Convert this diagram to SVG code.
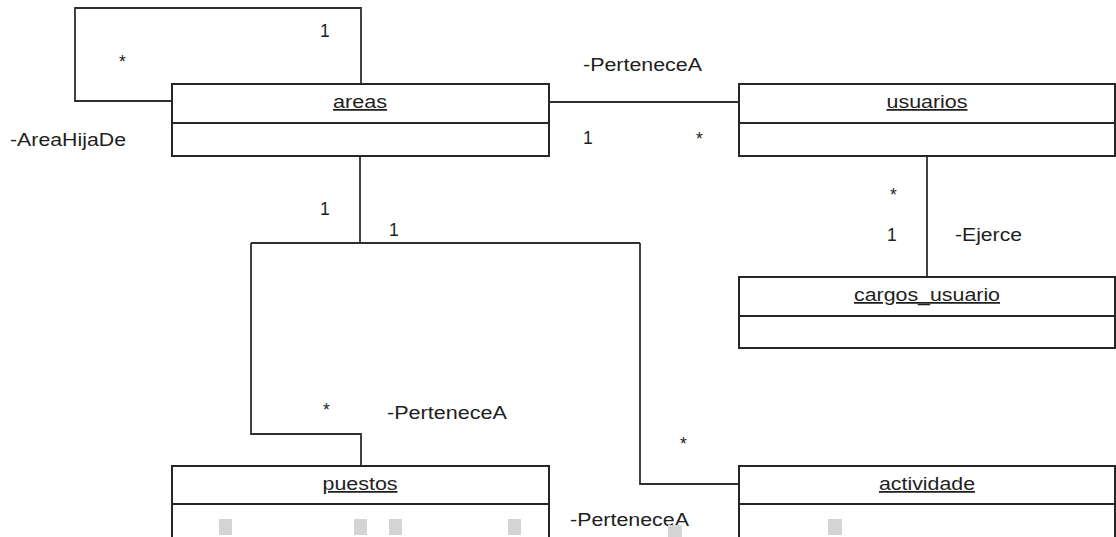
<svg xmlns="http://www.w3.org/2000/svg" width="1116" height="537" viewBox="0 0 1116 537">
  <style>
    .box { fill: #ffffff; stroke: #262626; stroke-width: 2; }
    .div { stroke: #262626; stroke-width: 2; }
    .conn { fill: none; stroke: #2e2e2e; stroke-width: 1.8; }
    text { font-family: "Liberation Sans", Arial, sans-serif; font-size: 17.5px; fill: #1e1e1e; }
    .name { text-anchor: middle; text-decoration: underline; }
    .mid { text-anchor: middle; }
    .smear { fill: #d4d4d4; }
  </style>

  <!-- associations -->
  <g id="connectors">
    <!-- areas self association -->
    <polyline class="conn" points="172,101 75,101 75,8 361,8 361,84"/>
    <!-- areas - usuarios -->
    <line class="conn" x1="549" y1="102" x2="739" y2="102"/>
    <!-- areas trunk down to the branch -->
    <line class="conn" x1="360" y1="156" x2="360" y2="243"/>
    <line class="conn" x1="251" y1="243" x2="640" y2="243"/>
    <!-- branch to puestos -->
    <polyline class="conn" points="251,243 251,434 361,434 361,466"/>
    <!-- branch to actividade -->
    <polyline class="conn" points="640,243 640,484 739,484"/>
    <!-- usuarios - cargos_usuario -->
    <line class="conn" x1="927" y1="156" x2="927" y2="277"/>
  </g>

  <!-- association labels and multiplicities -->
  <g id="labels">
    <text x="320" y="37">1</text>
    <text x="119" y="68">*</text>
    <text x="10" y="146" textLength="116" lengthAdjust="spacingAndGlyphs">-AreaHijaDe</text>

    <text x="583" y="71" textLength="119" lengthAdjust="spacingAndGlyphs">-PerteneceA</text>
    <text x="583" y="144">1</text>
    <text x="696" y="145">*</text>

    <text x="890" y="201">*</text>
    <text x="887" y="241">1</text>
    <text x="955" y="241" textLength="67" lengthAdjust="spacingAndGlyphs">-Ejerce</text>

    <text x="320" y="215">1</text>
    <text x="389" y="236">1</text>

    <text x="323" y="416">*</text>
    <text x="387" y="419" textLength="120" lengthAdjust="spacingAndGlyphs">-PerteneceA</text>
    <text x="680" y="450">*</text>
    <text x="570" y="526" textLength="119" lengthAdjust="spacingAndGlyphs">-PerteneceA</text>
  </g>

  <!-- classes -->
  <g id="areas">
    <rect class="box" x="172" y="84" width="377" height="72"/>
    <line class="div" x1="172" y1="123" x2="549" y2="123"/>
    <text class="name" x="360" y="108" textLength="54" lengthAdjust="spacingAndGlyphs">areas</text>
  </g>

  <g id="usuarios">
    <rect class="box" x="739" y="84" width="376" height="72"/>
    <line class="div" x1="739" y1="123" x2="1115" y2="123"/>
    <text class="name" x="927" y="108" textLength="81" lengthAdjust="spacingAndGlyphs">usuarios</text>
  </g>

  <g id="cargos_usuario">
    <rect class="box" x="739" y="277" width="376" height="71"/>
    <line class="div" x1="739" y1="316" x2="1115" y2="316"/>
    <text class="name" x="927" y="301" textLength="146" lengthAdjust="spacingAndGlyphs">cargos_usuario</text>
  </g>

  <g id="puestos">
    <rect class="box" x="172" y="466" width="377" height="100"/>
    <line class="div" x1="172" y1="504" x2="549" y2="504"/>
    <text class="name" x="360" y="490" textLength="75" lengthAdjust="spacingAndGlyphs">puestos</text>
  </g>

  <g id="actividade">
    <rect class="box" x="739" y="466" width="376" height="100"/>
    <line class="div" x1="739" y1="504" x2="1115" y2="504"/>
    <text class="name" x="927" y="490" textLength="96" lengthAdjust="spacingAndGlyphs">actividade</text>
  </g>

  <!-- light grey blocks along the bottom edge -->
  <g id="bottom-marks">
    <rect class="smear" x="219" y="519" width="13" height="16"/>
    <rect class="smear" x="354" y="519" width="13" height="16"/>
    <rect class="smear" x="389" y="519" width="13" height="16"/>
    <rect class="smear" x="508" y="519" width="13" height="16"/>
    <rect class="smear" x="668" y="525" width="14" height="12"/>
    <rect class="smear" x="828" y="519" width="14" height="16"/>
  </g>
</svg>
